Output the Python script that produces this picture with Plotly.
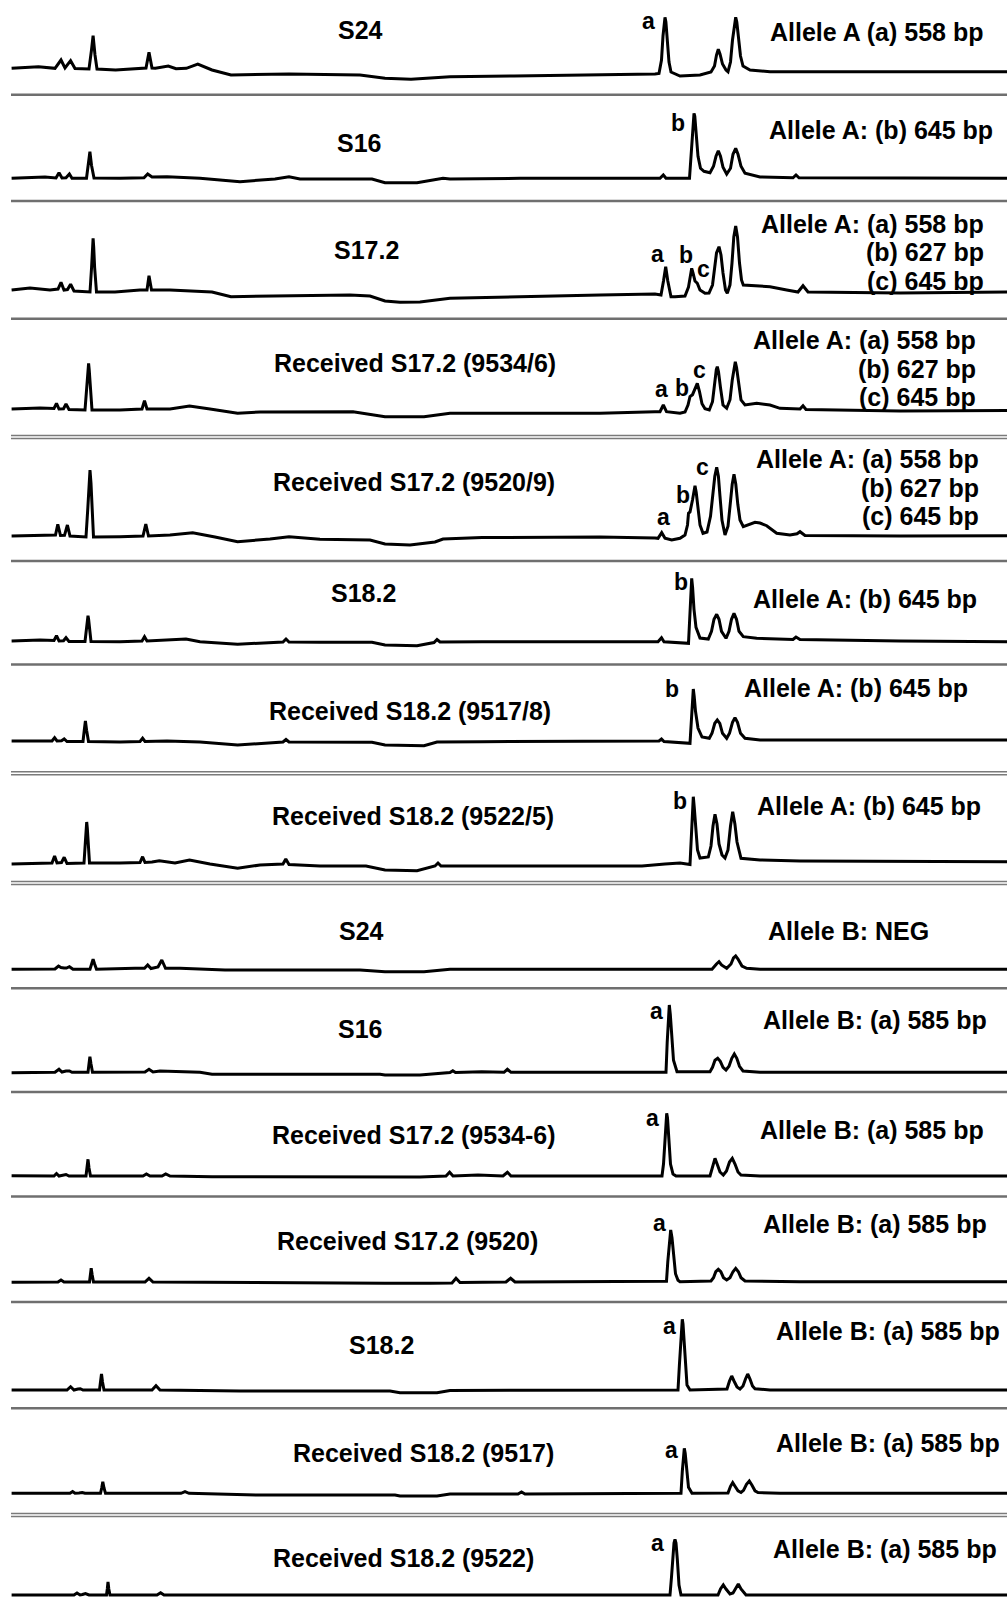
import plotly.graph_objects as go

W, H = 1007, 1597

# ---- electropherogram traces: (scan position, signal) vertex pairs per run ----
sig_A_S24 = [(11.6,5.7),(38.5,7.3),(55,5.7),(61,14),(65,6),(70.6,13.3),(75,5.5),(89,5),(91.5,24),(93.1,38.3),(95,19),(97,5),
    (115.6,4),(138,5.7),(146,6),(149,21.7),(152,6),(155.4,5.7),(168.3,8),(176,5.3),(186.3,5.7),(197.8,10),(212,4),(231,-1),
    (289,0),(360,-1),(385,-4.3),(411,-5.3),(450,-2.7),(514,-2),(617,-1),(655,0),
    (659,0.5),(661.5,14),(663,38),(664.2,52),(665,56.7),(665.9,52),(667.2,36),(669,12),(671,2),(680,-2),(700,-1),(711,2),
    (714.5,8),(716.5,19),(718.3,24.7),(720,20),(722.5,10),(726,4),(728,2.3),
    (730.5,12),(732.5,34),(734.6,52),(735.7,56.7),(736.8,52),(738.5,36),(740.5,18),(743,8),(750,4),(770,2.3),(1007,2.3)]

sig_A_S16 = [(11.6,0),(45,1.3),(56,0.3),(59,5.6),(62,0.3),(66,0.5),(69.4,4.3),(72,0),(86.5,0),(88.3,14),(89.9,26.6),(91.5,13),
    (94,0.3),(120,0),(144,0.5),(147.7,4.3),(152,1.3),(167,1.6),(200,0),(240,-3.4),(275,-0.7),(289,1.6),(300,-0.7),(372,-0.7),
    (385,-4.4),(417,-4.4),(443,0),(450,-0.7),(520,0),(640,0),(660,0),(663.3,3.3),(666,0),(689.5,0),
    (691,20),(692.5,50),(693.5,62),(694,65),(694.8,62),(696,45),(698,22),(700.5,10),(704,7),(710,5.6),
    (713.5,12),(716,22),(718.3,27.6),(720.5,22),(723,11),(726.7,4.3),(730.5,10),(733,24),(735.7,30),(738,24),(741,12),
    (745,5),(760,1.3),(793,0.5),(796,3.3),(799,0.5),(1007,0)]

sig_A_S172 = [(11.6,5),(30,7),(50,5),(58,6),(61,12.7),(64,5),(67.5,5.5),(70.6,10.7),(74,4),(90,3),(91.6,28),(92.5,48),
    (93.1,56.7),(93.7,48),(94.6,28),(96.5,3),(115,3),(140,5),(147,5),(149,19.3),(151.5,5),(170,5),(212,3),(231,-1.7),
    (300,-1),(350,0),(370,-1),(385,-6),(400,-7.3),(420,-7),(450,-3.3),(514,-1.7),(600,0),(655,1),
    (661,0),(663.5,14),(665.7,28.3),(667.8,14),(671,-1.7),(675,-1.7),(685,-1),(688.5,8),(690.5,22),(691.7,26.7),(693,22),
    (695,14),(697.3,11.7),(700,5),(705,1.7),(709,2),(712.5,10),(715,28),(716.5,42),(719,48.3),(721,40),(723,22),(725.5,5),
    (727.3,1.7),(730,10),(732,32),(733.8,58),(735.7,69),(737.5,58),(739.5,32),(741.5,15),(743.3,10),(756.7,9),(770,8.3),
    (786.7,5),(798,3),(803,9.3),(808,3),(900,2),(1007,3)]

sig_A_R9534 = [(11.6,2.7),(40,3.7),(54,3.2),(56.5,8.4),(59,2.7),(63.5,3),(66,7.7),(69,2.2),(85,1.7),(87,26.7),(88,42),
    (88.6,48.4),(89.2,42),(90.2,26.7),(92,1.7),(120,1.7),(142,2.7),(144.5,11),(147,2.7),(170,2.7),(189.5,5.7),(210,2.7),
    (237.6,-1.6),(260,-0.3),(353,0),(385,-5),(424,-5),(450,-1.6),(600,-1.6),(655,0),(660,0),(663.3,6.7),(666.5,0),
    (680,-1.6),(685,-0.3),(688,6.7),(690,15),(692.5,17),(695,24),(697.3,28.4),(699.5,20),(702,8),(705,3),(709.3,1.7),
    (712.5,10),(714.5,30),(716.3,42),(717.3,45),(718.5,40),(720.5,24),(723,6.7),(726.7,3.4),(730,12),(732.3,32),
    (734.2,46),(735.3,50),(736.6,44),(738.5,28),(741,11.7),(745,6.7),(756.7,8.4),(770,6.7),(780,3.4),(800,2.7),(803,6),
    (806,2.2),(900,0.7),(1007,1.2)]

sig_A_R9520 = [(11.6,2.3),(40,3.3),(55.5,3.3),(57.8,14),(60.5,2.8),(64.5,3),(67.4,13.3),(70,2.3),(86,1.3),(87.8,30),(89,55),
    (90,68.3),(91,55),(92.2,30),(93.5,1.3),(120,1.6),(143,2.3),(145.8,14.3),(148.5,2.3),(170,3.3),(192.7,5.6),(215,1.3),
    (237.6,-3.4),(270,-0.7),(289,1.6),(320,-1),(370,-1.7),(385,-5.7),(410,-6.7),(435,-3.7),(443,-0.7),(482,0.8),(600,1.3),
    (655,0.3),(658,0),(661.7,5.6),(665,0),(671.7,-1.7),(680,0),(685,3.3),(687.5,13.3),(688.5,25),(690,26.3),(692.5,38.3),
    (694,48),(695,52.6),(696.2,46),(697.5,33),(700,13.3),(703,5),(707,6.3),(710.5,22),(713,45),(714.8,62),(716.7,71),
    (718.4,62),(720,42),(722,18),(725,3.3),(728,12),(730,32),(732.2,54),(734,64),(735.8,54),(737.8,34),(740,18.3),
    (743.3,11.6),(750,14.3),(755,16),(760,15.3),(766.7,12.6),(776.7,5),(790,3.3),(797,4.5),(800,6.6),(805,2.8),(900,2.3),
    (1007,2.6)]

sig_A_S182 = [(11.6,2.3),(40,3.3),(54,2.8),(56.5,7.6),(59,2.3),(63.5,2.5),(66,5.6),(69,1.8),(85,1.8),(86.6,15.3),(87.5,24),
    (88,27.6),(88.6,24),(89.4,15.3),(91,1.8),(120,1.6),(142,2.3),(144.5,6.6),(147,2.3),(186,4.3),(200,1.6),(237.6,-1),
    (283,1.3),(286,4.3),(289,1.3),(320,1),(372,1),(385,-1.7),(417,-2.4),(434,0.8),(437,3.8),(440,1.3),(482,1.6),(640,1.6),
    (658,1.6),(661.5,5.6),(664,1.6),(688.5,0),(689.8,25),(690.8,50),(691.7,65),(692.6,56),(694,34),(696,16),(700,5.3),
    (708.3,4.3),(711.5,12),(714,24),(716.7,29),(719,24),(721.5,12),(726,5),(729,12),(731.5,24),(734,30),(736.5,24),
    (739,12),(743.3,6.6),(756.7,5),(793,3.8),(796,6.3),(800,3.8),(900,2.3),(1007,1.6)]

sig_A_R9517 = [(11.6,2.3),(40,2.8),(52,2.3),(54.6,5.6),(57,2.3),(61.5,2.5),(64.2,4.3),(67,1.8),(83,1.8),(84.3,13.3),
    (85.4,22.3),(86.6,13),(88.5,1.8),(120,1.3),(140,1.8),(142.6,5),(145,1.8),(167,2.3),(200,1.3),(237.6,-1.7),(283,1.3),
    (286,3.8),(289,1.3),(372,1),(385,-1.7),(424,-2.4),(437,1.3),(482,1.6),(642,2.3),(659,2.3),(661.5,4.3),(664,1.8),
    (690,0),(691.3,22),(692.4,45),(693.3,54.3),(694.2,47),(695.5,32),(698,15.3),(702,6.3),(709.3,5),(712,10),(714.8,20),
    (717.3,23.3),(719.8,20),(722.5,10),(726.7,5),(729.5,10),(732.5,21),(735,25.6),(737.5,21),(740.5,10),(745,5),(760,3.3),
    (1007,3.3)]

sig_A_R9522 = [(11.6,0),(40,1),(52,1),(54.6,8),(57,1),(61.5,1.5),(64.2,6.7),(67,0.5),(84,1),(85.5,24),(86.2,36),(86.7,42),
    (87.3,36),(88,24),(89.5,1),(120,1),(140,1.5),(142.6,7.3),(145,1.5),(152,2),(159.3,3.3),(175,1),(189.5,4),(210,0),
    (237.6,-4.3),(260,-1),(283,0),(285.8,5),(289,-0.5),(320,-2),(366,-2),(385,-6),(417,-6.7),(435,-2),(438,1),(441,-2),
    (462,-2),(642,-2),(665,0),(680,1),(690,-0.5),(691.3,24),(692.3,50),(693.3,67.3),(694.3,56),(695.5,38),(697.5,14),
    (700,6),(708.3,7),(711,18),(713,38),(715,49.7),(717,40),(719,20),(722,9),(725,6),(728,14),(730.5,38),(732.7,52.3),
    (734.9,40),(737,22),(741,5.7),(760,4),(800,3),(1007,2.3)]

sig_B_S24 = [(11.6,0.7),(55,1),(58.5,4),(61,2.5),(64,2),(66.5,2),(69.4,3.3),(73,0.7),(90,0.7),(91.8,6),(93.1,10.7),(94.6,6),
    (96.5,0.7),(135,1.7),(144.5,1.7),(147.7,5),(151,1.5),(158,3),(161.8,10),(165.5,1.7),(180,1.7),(225,0),(360,0),
    (385,-1.7),(424,-1.7),(450,0.7),(712,0.7),(716.5,6),(719,8.3),(721.5,5),(726.7,1.7),(731,6),(733.5,12),(735.7,14),
    (738,11),(742,4),(746.7,1.7),(760,0.7),(1007,0.7)]

sig_B_S16 = [(11.6,-0.4),(55,0),(59,3),(62,0.3),(66,1.3),(69.4,1.3),(72,0),(88,0),(89,8.3),(89.9,15.6),(91,8.3),(92.5,0),
    (145,0.3),(149,3),(153,0.3),(160,1.3),(200,0),(212,-2),(380,-2),(385,-2.7),(420,-2.7),(450,-0.2),(452.8,1.6),
    (455.5,-0.2),(481.7,0.6),(504,0),(507.4,3),(511,0),(660,0),(666,0),(667.2,30),(668.3,56),(669.3,67.3),(670.3,58),
    (671.5,38),(673.5,12),(677,0.6),(710,0.6),(712.5,5),(715,12),(717.7,14),(720.3,11),(723,5),(726,2.3),(729,6),
    (731.8,14),(734.3,18.3),(736.8,14),(739.5,6),(743,1.3),(760,0),(1007,0)]

sig_B_R9534 = [(11.6,0.3),(54,0),(56.5,2.5),(59,0),(66,1.5),(69,0),(86,0),(87,8),(88,16.7),(89,8),(90.5,0),(143,0),
    (146.4,2),(150,0),(162,0),(165.7,2),(170,0),(212,-0.7),(390,-1),(420,-1),(446,0),(449.6,3.7),(453,0),(478,1),(503,0),
    (507.4,3.7),(511,0),(662,0),(663.5,12),(664.9,40),(666,58),(666.7,62.7),(667.5,58),(668.8,38),(670.5,12),(673,2),
    (676,0),(710,0),(712.5,8),(715,17.7),(717.5,11),(720,4),(723.3,1),(726.5,5),(729.5,14),(732.3,17.7),(735,12),(738,4),
    (741,1),(760,0),(1007,0)]

sig_B_R9520 = [(11.6,-0.6),(58,-0.3),(61,1.7),(64,-0.3),(89.5,-0.3),(90.3,6.7),(91.2,13.4),(92.2,6.7),(93.5,-0.3),
    (145,-0.3),(149,3.4),(153,-0.3),(220,-0.8),(385,-1.6),(430,-1.6),(452,-1.3),(456,3.4),(460,-0.8),(506,-0.3),
    (510.6,3.4),(515,-0.3),(665,0),(666.5,0.5),(667.8,20),(669.3,42),(670.7,51.7),(672,44),(673.5,26),(675.5,8),
    (678,1.5),(680,0),(711,0.7),(713.5,4),(715.8,10),(718.3,12.4),(720.8,10),(723.5,4),(726.7,1.7),(730,4),(733,10),
    (735.7,13.4),(738.4,10),(741,4),(745,0.7),(800,0),(1007,0)]

sig_B_S182 = [(11.6,0),(67,0),(70.6,3.3),(74,0),(78,1),(80.3,1.3),(83,0),(99.5,0),(100.5,8),(101.5,16),(102.5,8),(104,0),
    (152,0),(156,4.3),(160,0),(240,-1),(390,-1),(400,-2.7),(437,-2.7),(450,-0.5),(520,-0.3),(678,0),(679.4,25),
    (680.7,52),(681.6,66),(682.3,70.7),(683,66),(684,50),(685.5,25),(687,5),(690,0),(727,1),(729.5,9),(731.7,14),(734,9),
    (737,3),(740,1),(743,4),(745.5,11),(747.7,16),(750,11),(752.5,4),(755,1.3),(770,0),(1007,0)]

sig_B_R9517 = [(11.6,0),(70,0),(72.6,1.8),(75,0),(79,0.3),(82.2,0.8),(85,0),(100.5,0),(101.7,5.3),(102.8,11.6),(104,5.3),
    (105.5,0),(181,0),(185,1.6),(189,0),(257,-1.7),(395,-1.7),(400,-2.7),(437,-2.7),(450,-0.7),(518,-0.7),(521.5,1.3),
    (525,-0.7),(680,0),(681,0),(682.3,22),(683.5,40),(684.3,45),(685.2,40),(686.5,24),(688.5,6),(692,0),(728,0.3),
    (730.5,7),(732.7,10.6),(735,7),(738,2.5),(741,0.8),(743.5,3),(746.5,9),(749.3,12.3),(752,8),(755,2.5),(758,0.8),
    (780,0),(1007,0)]

sig_B_R9522 = [(11.6,0),(74,0),(77,2),(80,0),(82.5,0.5),(85.4,1.5),(89,0),(106.5,0),(107.3,6),(108,13),(108.8,6),(110,0),
    (157,0),(160.6,2.3),(164,0),(668,0),(670,0),(671.5,18),(673,42),(674,52),(675,55.7),(676,52),(677.3,36),(679,10),
    (681,0),(718,0),(720.5,6),(723.3,10),(726,6),(730,1),(733,2),(735.5,7),(738.3,11),(741,6),(746,0),(1007,0)]

traces = [sig_A_S24, sig_A_S16, sig_A_S172, sig_A_R9534, sig_A_R9520, sig_A_S182, sig_A_R9517, sig_A_R9522,
          sig_B_S24, sig_B_S16, sig_B_R9534, sig_B_R9520, sig_B_S182, sig_B_R9517, sig_B_R9522]

# ---- labels ----
sample_names = ["S24", "S16", "S17.2", "Received S17.2 (9534/6)", "Received S17.2 (9520/9)", "S18.2",
                "Received S18.2 (9517/8)", "Received S18.2 (9522/5)",
                "S24", "S16", "Received S17.2 (9534-6)", "Received S17.2 (9520)", "S18.2",
                "Received S18.2 (9517)", "Received S18.2 (9522)"]

allele_calls = [
    ["Allele A (a) 558 bp"],
    ["Allele A: (b) 645 bp"],
    ["Allele A: (a) 558 bp", "(b) 627 bp", "(c) 645 bp"],
    ["Allele A: (a) 558 bp", "(b) 627 bp", "(c) 645 bp"],
    ["Allele A: (a) 558 bp", "(b) 627 bp", "(c) 645 bp"],
    ["Allele A: (b) 645 bp"],
    ["Allele A: (b) 645 bp"],
    ["Allele A: (b) 645 bp"],
    ["Allele B: NEG"],
    ["Allele B: (a) 585 bp"],
    ["Allele B: (a) 585 bp"],
    ["Allele B: (a) 585 bp"],
    ["Allele B: (a) 585 bp"],
    ["Allele B: (a) 585 bp"],
    ["Allele B: (a) 585 bp"],
]

peak_letters = [
    [("a", 648.5, 21)],
    [("b", 678, 123)],
    [("a", 657.7, 254), ("b", 685.5, 255), ("c", 703.5, 269)],
    [("a", 661, 389), ("b", 681.5, 388), ("c", 699, 370)],
    [("a", 663.5, 517), ("b", 683.3, 494.5), ("c", 702.7, 467)],
    [("b", 680.5, 582)],
    [("b", 671.5, 688.5)],
    [("b", 680, 801)],
    [],
    [("a", 656, 1010.5)],
    [("a", 652.5, 1118)],
    [("a", 659.5, 1223.3)],
    [("a", 669.5, 1326)],
    [("a", 671.3, 1449.7)],
    [("a", 657, 1543.3)],
]

# ---- layout of the stacked panels (pixel rows) ----
baseline_px = [74, 178.3, 295, 411.7, 538.3, 643.3, 743.3, 864, 970, 1072.3, 1176, 1281.7, 1390, 1493.3, 1595]
name_pos = [(360.5, 30), (359, 143), (366, 250), (415, 362.5), (413.6, 482.5), (363.5, 593), (409.5, 711),
            (413, 816.5), (361, 930.5), (359.5, 1029), (413.6, 1135), (407, 1240.5), (381.5, 1344.5),
            (423, 1452.5), (403.4, 1557.5)]
call_right_x = [986, 995, 986, 977.5, 981.4, 979.4, 970, 982.7, 931.3, 989, 986, 989, 1002, 1002, 998.7]
call_first_y = [32, 129.5, 224, 340, 459, 599, 688, 806, 930.5, 1020, 1130, 1224, 1331, 1442.5, 1549]
call_line_gap = 28.5
single_rules = [94.7, 201, 318.7, 561, 664.5, 988.3, 1092, 1196.5, 1302, 1408.3]
double_rules = [435.5, 771.7, 881.5, 1513.5]

FONT = dict(family="Liberation Sans, Arial, sans-serif", size=25, color="black", weight="bold")
LETTER_FONT = dict(family="Liberation Sans, Arial, sans-serif", size=23, color="black", weight="bold")

fig = go.Figure()
layout_axes = {}
for i, pts in enumerate(traces):
    b = baseline_px[i]
    top = max(b - 95, 0)
    bot = min(b + 12, H)
    ax = "y" if i == 0 else f"y{i + 1}"
    key = "yaxis" if i == 0 else f"yaxis{i + 1}"
    layout_axes[key] = dict(domain=[(H - bot) / H, (H - top) / H], range=[b - bot, b - top],
                            visible=False, fixedrange=True, anchor="x")
    fig.add_trace(go.Scatter(x=[p[0] for p in pts], y=[p[1] for p in pts], mode="lines", yaxis=ax,
                             line=dict(color="black", width=3), hoverinfo="skip", showlegend=False))

annotations = []
for i in range(len(traces)):
    nx, ny = name_pos[i]
    annotations.append(dict(text=sample_names[i], x=nx, y=1 - ny / H, xref="x", yref="paper",
                            xanchor="center", yanchor="middle", showarrow=False, font=FONT))
    for j, line in enumerate(allele_calls[i]):
        annotations.append(dict(text=line, x=call_right_x[i], y=1 - (call_first_y[i] + j * call_line_gap) / H,
                                xref="x", yref="paper", xanchor="right", yanchor="middle",
                                showarrow=False, font=FONT))
    for letter, lx, ly in peak_letters[i]:
        annotations.append(dict(text=letter, x=lx, y=1 - ly / H, xref="x", yref="paper",
                                xanchor="center", yanchor="middle", showarrow=False, font=LETTER_FONT))

shapes = []
for ry in single_rules:
    shapes.append(dict(type="line", xref="x", yref="paper", x0=11, x1=W, y0=1 - ry / H, y1=1 - ry / H,
                       line=dict(color="#6f6f6f", width=2.5)))
for ry in double_rules:
    for off in (0, 3):
        yy = 1 - (ry + off) / H
        shapes.append(dict(type="line", xref="x", yref="paper", x0=11, x1=W, y0=yy, y1=yy,
                           line=dict(color="#7a7a7a", width=1.6)))

fig.update_layout(
    width=W, height=H, autosize=False,
    margin=dict(l=0, r=0, t=0, b=0),
    paper_bgcolor="white", plot_bgcolor="white",
    xaxis=dict(range=[0, W], domain=[0, 1], visible=False, fixedrange=True),
    annotations=annotations, shapes=shapes,
    **layout_axes,
)

fig.write_html("out.html", config={"displayModeBar": False})
